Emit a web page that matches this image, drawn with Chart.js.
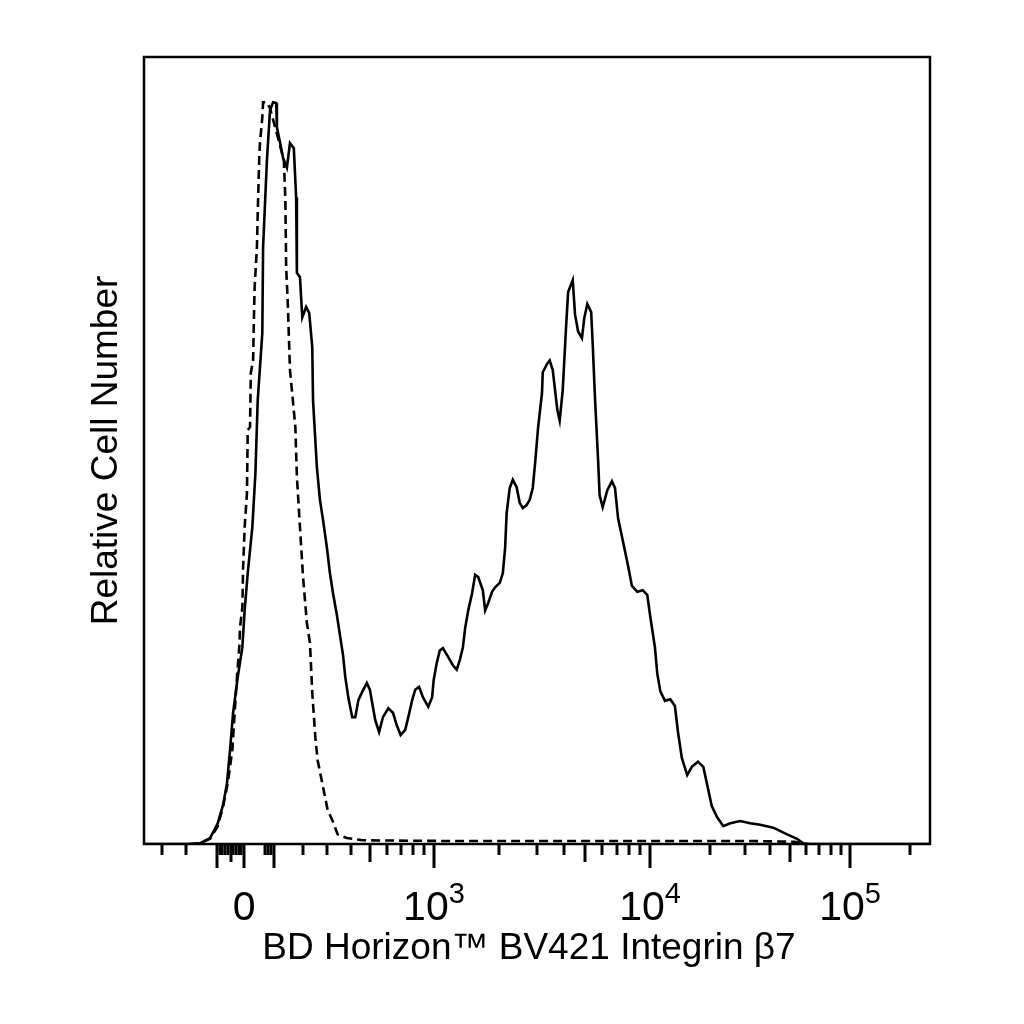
<!DOCTYPE html>
<html><head><meta charset="utf-8">
<script src="https://cdn.jsdelivr.net/npm/chart.js@4.4.1/dist/chart.umd.min.js"></script>
<style>html,body{margin:0;padding:0;background:#fff}canvas{display:block}</style>
</head><body>
<canvas id="c" width="1024" height="1024" style="width:1024px;height:1024px"></canvas>
<script>
// Histogram data: display channel (0-1023) and relative count (% of peak)
const solidChannel = [0,60,73,86,96,103,108,112,116,122,128,131,135,141,145,148,154,155,160,164,168,172,173,177,181,186,190,195,198,199,203,206,211,215,219,220,225,229,233,238,242,246,251,255,259,262,266,271,275,279,284,290,294,297,301,306,311,318,324,329,334,340,344,349,353,358,363,370,375,377,381,385,389,396,402,407,411,415,418,422,427,431,435,441,444,448,453,457,463,467,470,472,476,480,485,489,493,498,502,506,509,513,518,519,525,528,532,535,538,541,545,549,552,558,561,565,570,573,577,582,584,587,591,593,597,603,609,613,617,622,626,630,635,642,649,655,659,665,668,672,678,685,691,695,700,707,713,721,728,734,739,746,754,763,776,789,802,819,837,850,858,867,1023];
const solidCount = [0,0,0.1,0.8,2.8,5.3,8.2,12.7,17.7,22.5,26.5,31.5,36.5,42.7,50.0,59.8,68.9,80.5,92.2,98.9,100,99.9,96.6,94.6,92.5,91.2,94.5,93.8,87.2,77.0,76.4,71.0,72.4,71.6,67.0,59.8,50.8,46.4,43.7,40.0,36.5,33.8,30.9,28.2,25.5,22.5,19.7,17.1,17.1,19.4,20.5,21.7,20.8,19.0,16.7,15.1,17.1,18.3,17.7,16.0,14.7,15.4,17.1,19.4,20.8,21.2,19.8,18.5,19.8,22.1,24.4,26.1,26.4,25.2,24.1,23.5,24.8,26.5,29.1,31.5,33.8,36.3,36.0,34.2,31.5,32.5,34.0,34.6,35.2,36.5,39.9,44.6,48.0,49.1,48.1,46.0,45.3,45.7,46.4,48.0,51.3,56.2,60.8,63.6,64.8,65.2,63.9,61.2,58.5,57.1,61.2,69.1,74.4,76.0,71.4,69.1,68.2,70.9,72.8,71.7,67.4,60.1,51.8,47.0,45.4,47.7,48.9,48.0,43.9,41.5,39.5,37.5,34.8,34.0,34.2,33.6,30.6,26.5,23.0,20.6,19.3,19.5,18.6,15.1,11.6,9.3,10.4,11.1,10.4,7.5,5.1,3.6,2.4,2.8,3.1,2.8,2.6,2.2,1.3,0.7,0.1,0,0];
const dashChannel = [60,73,86,96,103,109,115,118,121,124,125,128,129,131,134,135,138,139,142,143,144,147,148,150,151,154,155,160,164,170,177,182,184,185,187,190,197,199,203,207,212,216,219,223,226,233,239,246,252,264,285,398,528,659,789,847,860];
const dashCount = [0,0.1,0.7,2.4,5.1,8.2,12.7,17.7,22.5,26.5,29.2,31.9,37.3,42.7,47.3,55.8,56.2,63.5,65.2,70.6,75.1,80.5,85.0,92.6,94.6,98.0,100,100,99.2,96.9,94.2,92.2,86.8,77.8,73.3,63.9,56.2,49.5,42.7,36.0,29.8,27.1,20.4,14.4,11.3,7.7,4.6,3.0,1.3,0.8,0.5,0.4,0.4,0.4,0.4,0.3,0];

// Biexponential axis calibration: fluorescence value -> display channel
const axisValue   = [-300,-200,-100,0,200,300,500,1000,10000,100000];
const axisChannel = [23.4,54.7,95.0,130.2,206.9,238.2,294.1,377.4,658.6,918.9];

// Tick marks (fluorescence values) and labels
const majorTicks = [-100,0,100,1000,10000,100000];
const midTicks   = [-50,500,5000,50000];
const minorTicks = [-300,-200,-90,-80,-70,-60,-40,-30,-20,-10,70,80,90,200,300,400,600,700,800,900,2000,3000,4000,6000,7000,8000,9000,20000,30000,40000,60000,70000,80000,90000,200000];
const labelValues = [0,1000,10000,100000];
const labelBase   = ['0','10','10','10'];
const labelSup    = ['','3','4','5'];

const xTitle = 'BD Horizon\u2122 BV421 Integrin \u03b27';
const yTitle = 'Relative Cell Number';

function toChannel(v){
  const n = axisValue.length;
  let i = 0;
  if (v <= axisValue[0]) i = 0;
  else if (v >= axisValue[n-1]) i = n-2;
  else { while (i < n-2 && v > axisValue[i+1]) i++; }
  const v0 = axisValue[i], v1 = axisValue[i+1], c0 = axisChannel[i], c1 = axisChannel[i+1];
  if (v0 >= 300 && v > 0) {
    return c0 + (Math.log10(v) - Math.log10(v0)) / (Math.log10(v1) - Math.log10(v0)) * (c1 - c0);
  }
  return c0 + (v - v0) / (v1 - v0) * (c1 - c0);
}

const FONT = '"Liberation Sans", Arial, Helvetica, sans-serif';

const axisDeco = {
  id: 'axisDeco',
  afterDraw(chart){
    const {ctx, chartArea: a, scales: {x}} = chart;
    ctx.save();
    ctx.strokeStyle = '#000';
    ctx.lineWidth = 2.5;
    ctx.strokeRect(a.left, a.top, a.right - a.left, a.bottom - a.top);
    ctx.lineWidth = 3;
    const drawTicks = (vals, len) => {
      vals.forEach(v => {
        const px = Math.round(x.getPixelForValue(toChannel(v)));
        ctx.beginPath();
        ctx.moveTo(px, a.bottom);
        ctx.lineTo(px, a.bottom + len);
        ctx.stroke();
      });
    };
    drawTicks(minorTicks, 11);
    drawTicks(midTicks, 18);
    drawTicks(majorTicks, 24);

    ctx.fillStyle = '#000';
    ctx.textBaseline = 'alphabetic';
    ctx.textAlign = 'left';
    const baseFont = '41px ' + FONT, supFont = '29px ' + FONT;
    labelValues.forEach((v, k) => {
      const px = x.getPixelForValue(toChannel(v));
      ctx.font = baseFont;
      const wb = ctx.measureText(labelBase[k]).width;
      ctx.font = supFont;
      const ws = labelSup[k] ? ctx.measureText(labelSup[k]).width : 0;
      const start = px - (wb + ws) / 2;
      ctx.font = baseFont;
      ctx.fillText(labelBase[k], start, a.bottom + 76);
      if (labelSup[k]) {
        ctx.font = supFont;
        ctx.fillText(labelSup[k], start + wb, a.bottom + 59);
      }
    });

    ctx.font = '37px ' + FONT;
    ctx.textAlign = 'center';
    ctx.fillText(xTitle, (a.left + a.right) / 2 - 8, a.bottom + 115);

    ctx.save();
    ctx.translate(a.left - 27, (a.top + a.bottom) / 2);
    ctx.rotate(-Math.PI / 2);
    ctx.fillText(yTitle, 0, 0);
    ctx.restore();
    ctx.restore();
  }
};

new Chart(document.getElementById('c'), {
  type: 'line',
  data: {
    datasets: [
      { data: solidChannel.map((c, i) => ({x: c, y: solidCount[i]})),
        borderColor: '#000', borderWidth: 2.6, pointRadius: 0, tension: 0, fill: false },
      { data: dashChannel.map((c, i) => ({x: c, y: dashCount[i]})),
        borderColor: '#000', borderWidth: 2.6, borderDash: [9, 5], pointRadius: 0, tension: 0, fill: false }
    ]
  },
  options: {
    responsive: false,
    animation: false,
    devicePixelRatio: 1,
    layout: { padding: { left: 144, top: 57, right: 94, bottom: 180 } },
    plugins: { legend: { display: false }, tooltip: { enabled: false }, title: { display: false } },
    scales: {
      x: { type: 'linear', min: 0, max: 1023, display: false },
      y: { type: 'linear', min: 0, max: 106.1, display: false }
    }
  },
  plugins: [axisDeco]
});
</script>
</body></html>
